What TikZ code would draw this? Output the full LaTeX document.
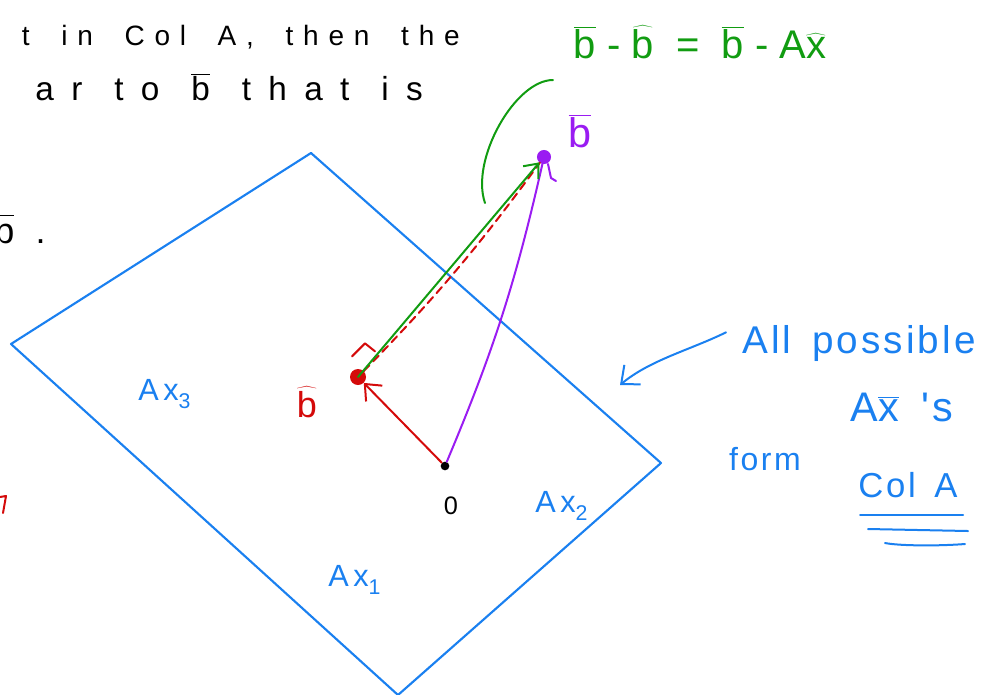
\RequirePackage{fix-cm}
\documentclass[tikz,border=0pt]{standalone}
\usepackage[no-math]{fontspec}
\setmainfont{Liberation Sans}
\newfontfamily\plainhand{Liberation Sans}
\newfontfamily\handfont[LetterSpace=35, WordSpace=1.8]{Liberation Sans}
\newfontfamily\handwide[LetterSpace=52, WordSpace=1.2]{Liberation Sans}
\newfontfamily\notefont[LetterSpace=8, WordSpace=1.5]{Liberation Sans}
\newfontfamily\axisfont[LetterSpace=15]{Liberation Sans}
\usetikzlibrary{arrows.meta,positioning,calc}
\definecolor{planecolor}{HTML}{1A80F0}
\definecolor{projcolor}{HTML}{D40A0A}
\definecolor{targetcolor}{HTML}{9A1CF2}
\definecolor{errorcolor}{HTML}{119C11}
\newcommand{\bvec}{\ensuremath{\overline{\hbox{\plainhand b}}}}
\newcommand{\bproj}{\ensuremath{\widehat{\hbox{\plainhand b}}}}
\newcommand{\xproj}{\ensuremath{\widehat{\hbox{\plainhand x}}}}
\newcommand{\xvec}{\ensuremath{\overline{\hbox{\plainhand x}}}}
\newcommand{\lowidx}[1]{\raisebox{-0.28em}{\fontsize{16}{16}\selectfont #1}}

\begin{document}
\begin{tikzpicture}[
    x=0.75pt, y=-0.75pt,
    ink/.style={line width=1.5pt, line cap=round, line join=round},
    plane/.style={ink, draw=planecolor, line width=1.6pt},
    handline/.style={
        font=\handfont\fontsize{21}{24}\selectfont,
        inner sep=0pt, text=black
    },
    notetext/.style={
        font=\notefont\fontsize{#1}{#1}\selectfont,
        inner sep=0pt, text=planecolor
    },
    planelabel/.style={
        font=\axisfont\fontsize{23}{26}\selectfont,
        inner sep=0pt, text=planecolor, anchor=base west
    },
    origindot/.style={circle, fill=black, inner sep=0pt, minimum size=6.5pt},
    projdot/.style={circle, fill=projcolor, inner sep=0pt, minimum size=12pt},
    targetdot/.style={circle, draw=targetcolor, line width=1.5pt, fill=targetcolor, inner sep=0pt, minimum size=9pt},
    projarrow/.style={ink, draw=projcolor, -{Straight Barb[length=10pt, width=17pt, line width=1.5pt]}},
    errorarrow/.style={ink, draw=errorcolor, -{Straight Barb[length=9pt, width=15pt, line width=1.5pt]}},
    targetpath/.style={ink, draw=targetcolor},
    perpline/.style={ink, draw=projcolor, dash pattern=on 6pt off 4pt},
    notearrow/.style={ink, draw=planecolor, -{Straight Barb[length=11pt, width=19pt, line width=1.5pt]}}
]
\useasboundingbox (0,0) rectangle (986,694);
\clip (0,0) rectangle (986,694);

% Text cut off at the left edge
\node[handline, anchor=base east] (line1) at (460,45) {t in Col A, then the};
\node[handline, font=\handwide\fontsize{25}{28}\selectfont, anchor=base east] (line2) at (423,100) {ar to \bvec{} that is};
\node[handline, font=\plainhand\fontsize{27}{30}\selectfont, anchor=base east] (line3) at (46,243) {\bvec\hspace{16pt}.};
\draw[ink, projcolor] (0,497) -- (6,496) -- (3,513);

% The plane Col A
\draw[plane] (311,153) -- (661,463) -- (398,695) -- (11,344) -- cycle;
\node[planelabel] (ax3) at (138,400) {Ax\lowidx{3}};
\node[planelabel] (ax1) at (328,586) {Ax\lowidx{1}};
\node[planelabel] (ax2) at (535,512) {Ax\lowidx{2}};

% Points
\node[origindot] (O) at (445,466) {};
\node[font=\fontsize{19}{20}\selectfont, inner sep=0pt] (Olabel) at (451,506) {0};
\node[projdot] (bhat) at (358,377) {};
\node[targetdot] (bbar) at (544,157) {};
\node[font=\plainhand\fontsize{27}{28}\selectfont, text=projcolor, inner sep=0pt] (bhatlabel) at (307,402) {\bproj};
\node[font=\plainhand\fontsize{31}{32}\selectfont, text=targetcolor, inner sep=0pt] (bbarlabel) at (580,131) {\bvec};

% Vectors
\draw[targetpath] (O) to[bend right=5] (bbar);
\draw[targetpath] ([xshift=3pt]bbar.south) -- ++(3,14) -- ++(5,3);
\draw[perpline] (bhat) to[bend right=4] (bbar);
\draw[errorarrow] (bhat.center) -- (bbar);
\draw[projarrow] (O) -- (bhat);
\draw[ink, projcolor] ([shift={(-4.5pt,15.5pt)}]bhat.center) -- ++(13,-13) -- ++(10,8);

% Error label
\node[font=\plainhand\fontsize{30}{32}\selectfont, text=errorcolor, inner sep=0pt] (errorlabel) at (700,42)
    {\bvec~-~\bproj\ \ =\ \ \bvec\ -\ A\xproj};
\draw[ink, errorcolor] (553,80) .. controls (515,80) and (470,160) .. (485,203);

% Note on the right
\node[notetext=29, anchor=base] (allposs) at (859,353) {All possible};
\node[notetext=31, anchor=base] (axs) at (902,421) {A\xvec\ 's};
\node[notetext=24, anchor=base] (form) at (765,470) {form};
\node[notetext=26, anchor=base] (colA) at (908,497) {Col A};
\coordinate (planeedge) at (620,385);
\draw[notearrow] ([shift={(-12pt,8pt)}]allposs.west) .. controls (690,350) and (650,360) .. (planeedge);
\draw[ink, planecolor] (860,515) -- (963,515);
\draw[ink, planecolor] (868,529) -- (968,531);
\draw[ink, planecolor] (885,543) .. controls (900,546) and (940,546) .. (965,544);

\end{tikzpicture}
\end{document}
